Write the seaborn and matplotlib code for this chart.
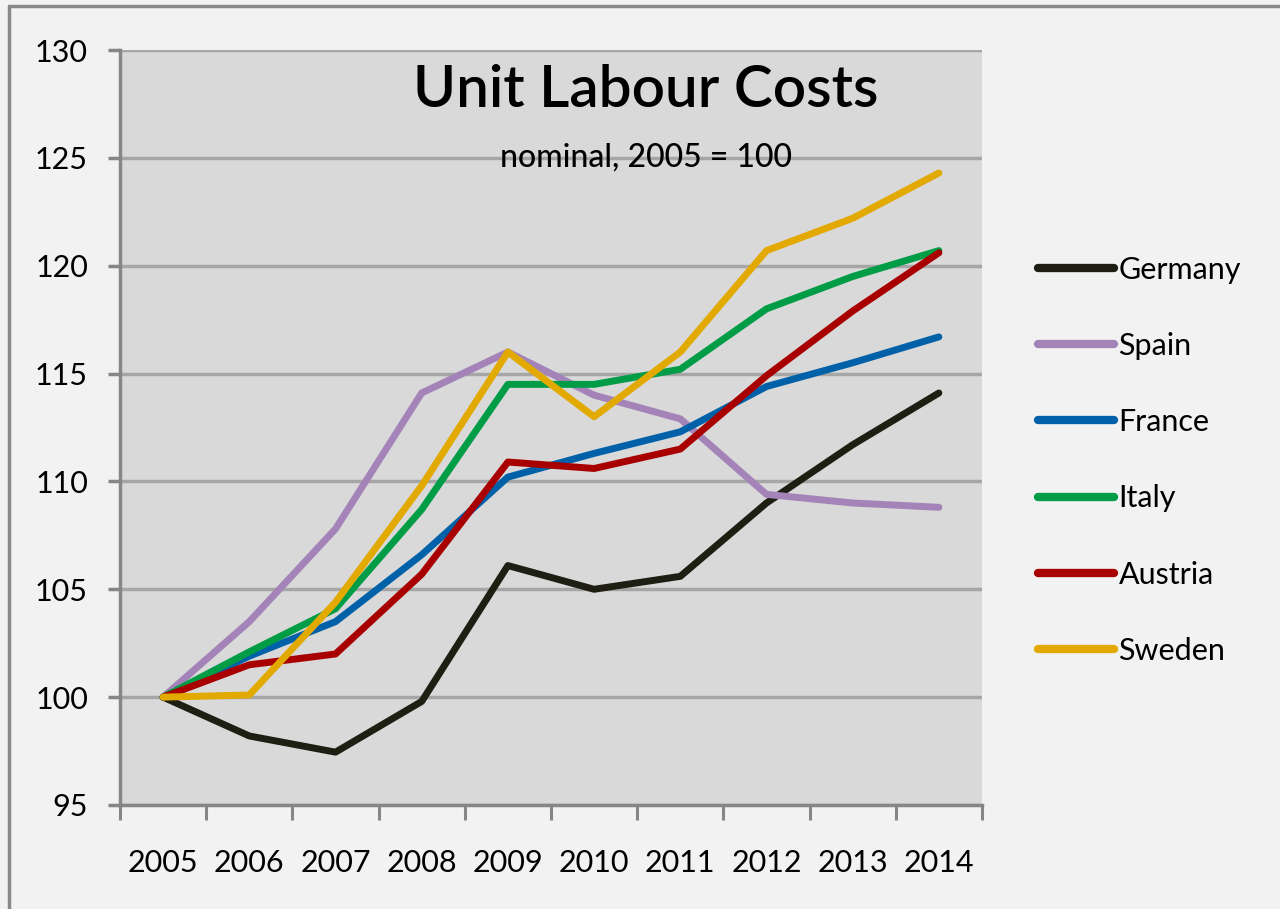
import numpy as np
import pandas as pd
import matplotlib.pyplot as plt
import seaborn as sns
from matplotlib.lines import Line2D

years = [2005, 2006, 2007, 2008, 2009, 2010, 2011, 2012, 2013, 2014]
countries = ["Germany", "Spain", "France", "Italy", "Austria", "Sweden"]

germany = [100, 98.2, 97.45, 99.8, 106.1, 105.0, 105.6, 109.0, 111.7, 114.1]
spain = [100, 103.5, 107.8, 114.1, 116.0, 114.0, 112.9, 109.4, 109.0, 108.8]
france = [100, 101.9, 103.5, 106.6, 110.2, 111.3, 112.3, 114.4, 115.5, 116.7]
italy = [100, 102.1, 104.1, 108.7, 114.5, 114.5, 115.2, 118.0, 119.5, 120.7]
austria = [100, 101.5, 102.0, 105.7, 110.9, 110.6, 111.5, 114.9, 117.9, 120.6]
sweden = [100, 100.1, 104.4, 109.8, 116.0, 113.0, 116.0, 120.7, 122.2, 124.3]

colors = ["#1e1e12", "#a484b8", "#0060a8", "#009c46", "#a80000", "#e2aa00"]
y_ticks = [95, 100, 105, 110, 115, 120, 125, 130]

series = [germany, spain, france, italy, austria, sweden]
df = pd.DataFrame({
    "year": years * len(countries),
    "country": [c for c in countries for _ in years],
    "value": [v for s in series for v in s],
})

sns.set_style("white")
plt.rcParams['font.family'] = ['Lato', 'DejaVu Sans']
plt.rcParams['text.color'] = 'black'
plt.rcParams['xtick.color'] = 'black'
plt.rcParams['ytick.color'] = 'black'

fig = plt.figure(figsize=(12.8, 9.09), dpi=100, facecolor="#f2f2f2")
ax = fig.add_axes([120 / 1280, 1 - 805 / 909, 862 / 1280, 755 / 909])
ax.set_facecolor("#d9d9d9")

sns.lineplot(data=df, x="year", y="value", hue="country", hue_order=countries,
             palette=colors, linewidth=5, ax=ax, legend=False, sort=False)
for ln in ax.lines:
    ln.set_solid_joinstyle("round")
    ln.set_solid_capstyle("round")

ax.set_xlim(2004.5, 2014.5)
ax.set_ylim(95, 130)
ax.set_yticks(y_ticks)
ax.set_yticklabels([str(t) for t in y_ticks], fontsize=22)
ax.yaxis.grid(True, color="#a6a6a6", linewidth=2.5)
ax.set_axisbelow(True)

ax.set_xticks(years)
ax.set_xticklabels([str(y) for y in years], fontsize=22)
ax.set_xticks(np.arange(2004.5, 2015, 1), minor=True)
ax.tick_params(axis="x", which="both", bottom=True)
ax.tick_params(axis="x", which="major", length=0, pad=32)
ax.tick_params(axis="x", which="minor", length=11, width=2.2, color="#868686", direction="out")
ax.tick_params(axis="y", left=True, length=9, width=2.5, color="#868686", pad=14)
ax.set_xlabel("")
ax.set_ylabel("")

for side in ["top", "right"]:
    ax.spines[side].set_visible(False)
for side in ["left", "bottom"]:
    ax.spines[side].set_color("#868686")
    ax.spines[side].set_linewidth(2.5)

ax.text(0.61, 0.947, "Unit Labour Costs", transform=ax.transAxes, ha="center", va="center",
        fontsize=42, fontweight="semibold")
ax.text(0.61, 0.857, "nominal, 2005 = 100", transform=ax.transAxes, ha="center", va="center",
        fontsize=23, fontweight="medium")

handles = [Line2D([0], [0], color=c, linewidth=6) for c in colors]
fig.legend(handles, countries, loc="upper left", bbox_to_anchor=(1010 / 1280, 1 - 228 / 909),
           frameon=False, fontsize=22, handlelength=2.5, handletextpad=0.15, labelspacing=1.58)

# outer chart border (top and left visible)
fig.add_artist(Line2D([9 / 1280, 9 / 1280], [0, 1 - 6 / 909], transform=fig.transFigure,
                      color="#888888", linewidth=2.5))
fig.add_artist(Line2D([9 / 1280, 1], [1 - 6 / 909, 1 - 6 / 909], transform=fig.transFigure,
                      color="#888888", linewidth=2.5))

fig.savefig("out.png", dpi=100, facecolor=fig.get_facecolor())
